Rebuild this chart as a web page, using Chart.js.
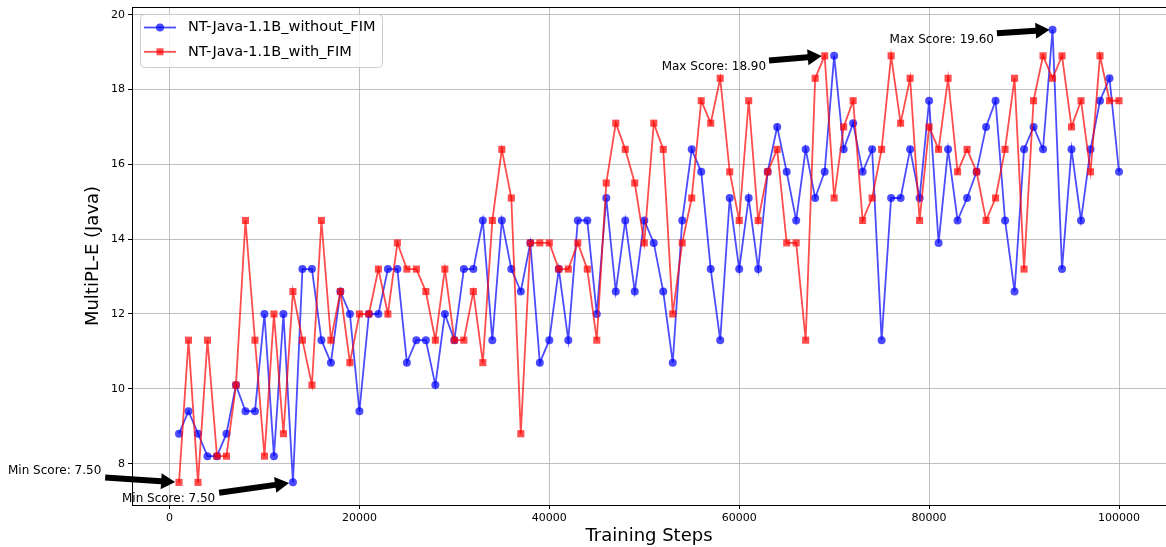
<!DOCTYPE html>
<html>
<head>
<meta charset="utf-8">
<script src="https://cdn.jsdelivr.net/npm/chart.js@4.4.1/dist/chart.umd.min.js"></script>
<style>
  html, body { margin: 0; padding: 0; background: #fff; }
  #wrap { width: 1166px; height: 547px; }
</style>
</head>
<body>
<div id="wrap"><canvas id="chart" width="1166" height="547"></canvas></div>
<script>
// Training steps (x) and MultiPL-E Java scores.
const steps = [
  1000, 2000, 3000, 4000, 5000, 6000, 7000, 8000, 9000, 10000,
  11000, 12000, 13000, 14000, 15000, 16000, 17000, 18000, 19000, 20000,
  21000, 22000, 23000, 24000, 25000, 26000, 27000, 28000, 29000, 30000,
  31000, 32000, 33000, 34000, 35000, 36000, 37000, 38000, 39000, 40000,
  41000, 42000, 43000, 44000, 45000, 46000, 47000, 48000, 49000, 50000,
  51000, 52000, 53000, 54000, 55000, 56000, 57000, 58000, 59000, 60000,
  61000, 62000, 63000, 64000, 65000, 66000, 67000, 68000, 69000, 70000,
  71000, 72000, 73000, 74000, 75000, 76000, 77000, 78000, 79000, 80000,
  81000, 82000, 83000, 84000, 85000, 86000, 87000, 88000, 89000, 90000,
  91000, 92000, 93000, 94000, 95000, 96000, 97000, 98000, 99000, 100000
];

const withoutFim = [
  8.8, 9.4, 8.8, 8.2, 8.2, 8.8, 10.1, 9.4, 9.4, 12.0,
  8.2, 12.0, 7.5, 13.2, 13.2, 11.3, 10.7, 12.6, 12.0, 9.4,
  12.0, 12.0, 13.2, 13.2, 10.7, 11.3, 11.3, 10.1, 12.0, 11.3,
  13.2, 13.2, 14.5, 11.3, 14.5, 13.2, 12.6, 13.9, 10.7, 11.3,
  13.2, 11.3, 14.5, 14.5, 12.0, 15.1, 12.6, 14.5, 12.6, 14.5,
  13.9, 12.6, 10.7, 14.5, 16.4, 15.8, 13.2, 11.3, 15.1, 13.2,
  15.1, 13.2, 15.8, 17.0, 15.8, 14.5, 16.4, 15.1, 15.8, 18.9,
  16.4, 17.1, 15.8, 16.4, 11.3, 15.1, 15.1, 16.4, 15.1, 17.7,
  13.9, 16.4, 14.5, 15.1, 15.8, 17.0, 17.7, 14.5, 12.6, 16.4,
  17.0, 16.4, 19.6, 13.2, 16.4, 14.5, 16.4, 17.7, 18.3, 15.8
];

const withFim = [
  7.5, 11.3, 7.5, 11.3, 8.2, 8.2, 10.1, 14.5, 11.3, 8.2,
  12.0, 8.8, 12.6, 11.3, 10.1, 14.5, 11.3, 12.6, 10.7, 12.0,
  12.0, 13.2, 12.0, 13.9, 13.2, 13.2, 12.6, 11.3, 13.2, 11.3,
  11.3, 12.6, 10.7, 14.5, 16.4, 15.1, 8.8, 13.9, 13.9, 13.9,
  13.2, 13.2, 13.9, 13.2, 11.3, 15.5, 17.1, 16.4, 15.5, 13.9,
  17.1, 16.4, 12.0, 13.9, 15.1, 17.7, 17.1, 18.3, 15.8, 14.5,
  17.7, 14.5, 15.8, 16.4, 13.9, 13.9, 11.3, 18.3, 18.9, 15.1,
  17.0, 17.7, 14.5, 15.1, 16.4, 18.9, 17.1, 18.3, 14.5, 17.0,
  16.4, 18.3, 15.8, 16.4, 15.8, 14.5, 15.1, 16.4, 18.3, 13.2,
  17.7, 18.9, 18.3, 18.9, 17.0, 17.7, 15.8, 18.9, 17.7, 17.7
];

const seriesNames = ['NT-Java-1.1B_without_FIM', 'NT-Java-1.1B_with_FIM'];
const xTicks = [0, 20000, 40000, 60000, 80000, 100000];
const yTicks = [8, 10, 12, 14, 16, 18, 20];

const FONT = 'DejaVu Sans';
const BLUE = 'rgba(0,0,255,0.7)';
const RED = 'rgba(255,0,0,0.7)';

const argOf = (arr, better) => arr.reduce((best, v, i) => (better(v, arr[best]) ? i : best), 0);

// which points get a "Max/Min Score" callout; dx/dy = text offset in px from the point
const callouts = [
  { ds: 0, kind: 'max', dx: -163, dy: 13 },
  { ds: 1, kind: 'max', dx: -163, dy: 14 },
  { ds: 1, kind: 'min', dx: -171, dy: -8 },
  { ds: 0, kind: 'min', dx: -171, dy: 20 },
];

function drawArrow(ctx, x0, y0, x1, y1) {
  const ang = Math.atan2(y1 - y0, x1 - x0);
  const len = Math.hypot(x1 - x0, y1 - y0);
  const bw = 3, hw = 8, hl = 14;
  ctx.save();
  ctx.translate(x0, y0);
  ctx.rotate(ang);
  ctx.beginPath();
  ctx.moveTo(0, -bw);
  ctx.lineTo(len - hl, -bw);
  ctx.lineTo(len - hl, -hw);
  ctx.lineTo(len, 0);
  ctx.lineTo(len - hl, hw);
  ctx.lineTo(len - hl, bw);
  ctx.lineTo(0, bw);
  ctx.closePath();
  ctx.fillStyle = '#000';
  ctx.fill();
  ctx.restore();
}

const calloutPlugin = {
  id: 'callouts',
  afterDatasetsDraw(chart) {
    const { ctx, scales: { x, y } } = chart;
    const fs = 12;
    ctx.save();
    ctx.font = fs + 'px "' + FONT + '"';
    ctx.textBaseline = 'alphabetic';
    ctx.textAlign = 'left';
    ctx.fillStyle = '#000';
    callouts.forEach(c => {
      const vals = c.ds === 0 ? withoutFim : withFim;
      const i = c.kind === 'max' ? argOf(vals, (a, b) => a > b) : argOf(vals, (a, b) => a < b);
      const px = x.getPixelForValue(steps[i]);
      const py = y.getPixelForValue(vals[i]);
      const text = (c.kind === 'max' ? 'Max' : 'Min') + ' Score: ' + vals[i].toFixed(2);
      const tx = px + c.dx, ty = py + c.dy;
      ctx.fillText(text, tx, ty);
      const w = ctx.measureText(text).width;
      const box = { l: tx, r: tx + w, t: ty - fs * 0.76, b: ty + fs * 0.24 };
      const pick = (opts, v) => opts.reduce((a, o) => (Math.abs(o - v) < Math.abs(a - v) ? o : a));
      const sx = pick([box.l, (box.l + box.r) / 2, box.r], px);
      const sy = pick([box.t, (box.t + box.b) / 2, box.b], py);
      const dx = px - sx, dy = py - sy;
      drawArrow(ctx, sx + dx * 0.05, sy + dy * 0.05, px - dx * 0.05, py - dy * 0.05);
    });
    ctx.restore();
  }
};

const framePlugin = {
  id: 'frame',
  afterDatasetsDraw(chart) {
    const { ctx, chartArea: a } = chart;
    ctx.save();
    ctx.strokeStyle = '#000';
    ctx.lineWidth = 1;
    ctx.strokeRect(a.left + 0.5, a.top + 0.5, a.right - a.left, a.bottom - a.top);
    ctx.restore();
  }
};

const legendPlugin = {
  id: 'boxLegend',
  afterDraw(chart) {
    const { ctx } = chart;
    const bx = 140, by = 14, bw = 242, bh = 53;
    ctx.save();
    ctx.beginPath();
    ctx.roundRect(bx + 0.5, by + 0.5, bw, bh, 4);
    ctx.fillStyle = 'rgba(255,255,255,0.8)';
    ctx.fill();
    ctx.strokeStyle = '#cccccc';
    ctx.lineWidth = 1;
    ctx.stroke();
    ctx.font = '14.5px "' + FONT + '"';
    ctx.textBaseline = 'middle';
    ctx.fillStyle = '#000';
    chart.data.datasets.forEach((ds, i) => {
      const ry = 27.5 + i * 24.3;
      ctx.strokeStyle = ds.borderColor;
      ctx.lineWidth = ds.borderWidth;
      ctx.beginPath();
      ctx.moveTo(144, ry);
      ctx.lineTo(176, ry);
      ctx.stroke();
      ctx.fillStyle = ds.backgroundColor;
      ctx.beginPath();
      if (ds.pointStyle === 'rect') ctx.rect(156.5, ry - 3.5, 7, 7);
      else ctx.arc(160, ry, 4, 0, Math.PI * 2);
      ctx.fill();
      ctx.fillStyle = '#000';
      ctx.fillText(ds.label, 188, ry);
    });
    ctx.restore();
  }
};

const noPad = s => { s.paddingLeft = 0; s.paddingRight = 0; s.paddingTop = 0; s.paddingBottom = 0; };

new Chart(document.getElementById('chart'), {
  type: 'line',
  data: {
    datasets: [
      {
        label: seriesNames[0],
        data: steps.map((s, i) => ({ x: s, y: withoutFim[i] })),
        borderColor: BLUE, backgroundColor: BLUE,
        borderWidth: 1.8, pointStyle: 'circle', pointRadius: 4, pointBorderWidth: 0,
        tension: 0, order: 1
      },
      {
        label: seriesNames[1],
        data: steps.map((s, i) => ({ x: s, y: withFim[i] })),
        borderColor: RED, backgroundColor: RED,
        borderWidth: 1.8, pointStyle: 'rect', pointRadius: 5, pointBorderWidth: 0,
        tension: 0, order: 0
      }
    ]
  },
  options: {
    responsive: false,
    animation: false,
    devicePixelRatio: 1,
    events: [],
    layout: { autoPadding: false, padding: { left: 0, right: 0, top: 7, bottom: 0 } },
    plugins: { legend: { display: false }, tooltip: { enabled: false } },
    scales: {
      x: {
        type: 'linear', min: -3950, max: 104950,
        afterBuildTicks: s => { s.ticks = xTicks.map(v => ({ value: v })); },
        afterFit: s => { s.height = 42; noPad(s); },
        ticks: { font: { family: FONT, size: 11 }, color: '#000', padding: 3, maxRotation: 0, callback: v => String(v) },
        grid: { color: '#b0b0b0', lineWidth: 0.8, tickColor: '#000', tickLength: 4, tickWidth: 1 },
        border: { color: '#000', width: 1 },
        title: { display: true, text: 'Training Steps', color: '#000', font: { family: FONT, size: 18 }, padding: { top: 0, bottom: 0 } }
      },
      y: {
        type: 'linear', min: 6.895, max: 20.205,
        afterBuildTicks: s => { s.ticks = yTicks.map(v => ({ value: v })); },
        afterFit: s => { s.width = 132; noPad(s); },
        ticks: { font: { family: FONT, size: 11 }, color: '#000', padding: 3, callback: v => String(v) },
        grid: { color: '#b0b0b0', lineWidth: 0.8, tickColor: '#000', tickLength: 4, tickWidth: 1 },
        border: { color: '#000', width: 1 },
        title: { display: true, text: 'MultiPL-E (Java)', color: '#000', font: { family: FONT, size: 18 }, padding: { top: 83, bottom: 0 } }
      }
    }
  },
  plugins: [framePlugin, calloutPlugin, legendPlugin]
});
</script>
</body>
</html>
